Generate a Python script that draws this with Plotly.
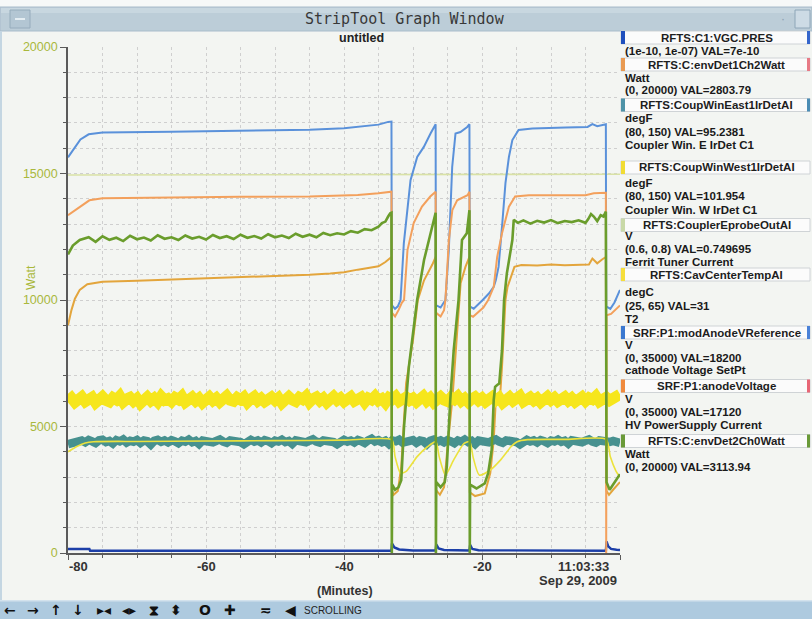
import plotly.graph_objects as go

# ---------------------------------------------------------------------------
# Channel data, time in minutes relative to 11:03:33 (Sep 29, 2009)
# ---------------------------------------------------------------------------

# RFTS:C1:VGC.PRES  (displayed range 1e-10 .. 1e-07)
vgc_t = [-80.0, -76.9, -76.8, -33.12, -33.05, -32.7, -32.0, -30.0, -26.72, -26.63,
         -26.3, -25.5, -21.82, -21.72, -21.4, -20.5, -2.05, -1.95, -1.7, -1.3, -0.5, 0.0]
vgc_p = [9.0e-10, 9.0e-10, 5.5e-10, 5.5e-10, 2.0e-9, 1.2e-9, 8.0e-10, 6.0e-10, 5.8e-10, 1.8e-9,
         1.0e-9, 7.0e-10, 6.0e-10, 1.7e-9, 9.0e-10, 6.5e-10, 5.5e-10, 2.4e-9, 1.4e-9, 9.0e-10, 7.5e-10, 7.0e-10]

# RFTS:C:envDet1Ch2Watt  (W, 0 .. 20000)
env1_t = [-80.0, -79.5, -79.0, -78.3, -77.2, -75.0, -70.0, -66.0, -62.0, -58.0, -55.0, -51.0, -48.0,
          -45.0, -42.0, -40.0, -38.0, -36.5, -35.0, -34.0, -33.12,
          -33.07, -32.8, -32.2, -31.7, -31.0, -30.0, -29.3, -28.4, -27.2, -26.72,
          -26.68, -26.1, -25.5, -25.0, -24.3, -23.6, -23.3, -23.1, -22.4, -21.82,
          -21.77, -21.0, -19.6, -18.8, -18.3, -18.0, -17.4, -17.1, -16.6, -16.3, -15.3, -14.3, -12.0,
          -10.0, -8.0, -6.0, -4.5, -4.0, -3.3, -2.6, -2.05,
          -1.95, -1.6, -1.0, -0.4, 0.0]
env1_w = [9000, 9600, 10050, 10400, 10620, 10720, 10760, 10800, 10830, 10860, 10890, 10930, 10960,
          11000, 11050, 11100, 11200, 11260, 11330, 11500, 11700,
          2500, 2300, 2450, 3410, 6710, 8410, 10000, 10780, 11400, 11700,
          2500, 2300, 2600, 4200, 6050, 8680, 10000, 10660, 11310, 11700,
          2400, 2250, 2350, 3160, 4460, 6050, 6100, 7360, 10000, 10520, 11310, 11380, 11360,
          11400, 11370, 11400, 11400, 11640, 11450, 11600, 11700,
          2450, 2300, 2500, 2700, 2803.79]

# RFTS:CoupWinEast1IrDetAI and RFTS:CoupWinWest1IrDetAI (degF, 80 .. 150), sampled every 0.5 min
win_step = 0.5
win_east_f = [
    95.05, 95.12, 95.28, 95.42, 95.55, 95.30, 95.62, 95.45, 95.22, 95.58,
    95.66, 95.35, 95.50, 95.15, 95.62, 95.44, 95.70, 95.28, 95.52, 95.40,
    95.63, 95.24, 95.56, 95.46, 95.02, 95.52, 95.66, 95.38, 95.57, 95.30,
    95.61, 95.45, 95.18, 95.55, 95.40, 95.68, 95.33, 95.50, 95.08, 95.56,
    95.45, 95.62, 95.30, 95.52, 95.71, 95.40, 95.24, 95.57, 95.46, 95.60,
    95.34, 95.04, 95.50, 95.66, 95.41, 95.58, 95.29, 95.62, 95.47, 95.20,
    95.55, 95.42, 95.68, 95.36, 95.51, 95.12, 95.58, 95.46, 95.64, 95.31,
    95.53, 95.72, 95.40, 95.26, 95.57, 95.45, 95.61, 95.35, 95.06, 95.52,
    95.66, 95.41, 95.56, 95.30, 95.63, 95.46, 95.22, 95.58, 95.80, 95.44,
    95.60, 95.32, 95.52, 95.10, 95.58, 95.45, 95.66, 95.28, 95.50, 95.40,
    95.62, 95.25, 95.55, 95.46, 95.05, 95.52, 95.67, 95.39, 95.57, 95.31,
    95.61, 95.44, 95.18, 95.56, 95.40, 95.69, 95.34, 95.51, 95.09, 95.55,
    95.46, 95.63, 95.30, 95.53, 95.70, 95.41, 95.25, 95.58, 95.45, 95.61,
    95.35, 95.02, 95.51, 95.65, 95.42, 95.57, 95.30, 95.62, 95.46, 95.21,
    95.56, 95.43, 95.67, 95.37, 95.52, 95.13, 95.58, 95.47, 95.64, 95.32,
    95.54, 95.71, 95.41, 95.27, 95.56, 95.46, 95.60, 95.36, 95.50, 95.30,
    95.2381]
win_west_f = [
    101.05, 101.45, 100.85, 101.30, 101.60, 100.95, 101.25, 101.55, 100.80, 101.35,
    101.62, 101.10, 100.90, 101.48, 101.20, 101.70, 100.88, 101.30, 101.52, 101.00,
    101.38, 100.70, 101.25, 101.58, 101.05, 101.42, 100.92, 101.66, 101.15, 101.35,
    100.95, 101.50, 101.22, 101.68, 100.86, 101.30, 101.55, 101.02, 101.40, 100.78,
    101.28, 101.60, 101.08, 101.45, 100.90, 101.35, 101.72, 101.12, 100.98, 101.50,
    101.20, 101.58, 100.85, 101.32, 101.65, 101.04, 101.40, 100.92, 101.28, 101.56,
    101.10, 101.48, 100.75, 101.36, 101.62, 101.18, 100.96, 101.52, 101.25, 101.70,
    100.88, 101.34, 101.58, 101.06, 101.42, 100.82, 101.30, 101.66, 101.14, 101.46,
    100.94, 101.38, 101.62, 101.00, 101.26, 101.54, 100.86, 101.44, 101.20, 101.68,
    101.08, 101.35, 100.80, 101.50, 101.24, 101.64, 100.98, 101.32, 101.56, 101.12,
    101.40, 100.90, 101.28, 101.70, 101.05, 101.46, 100.84, 101.36, 101.60, 101.16,
    100.96, 101.52, 101.22, 101.66, 101.02, 101.38, 100.88, 101.30, 101.58, 101.10,
    101.44, 100.92, 101.34, 101.62, 101.12, 101.48, 100.78, 101.26, 101.56, 101.04,
    101.40, 101.72, 100.94, 101.30, 101.54, 101.08, 101.42, 100.86, 101.34, 101.64,
    101.14, 101.50, 100.98, 101.28, 101.60, 101.06, 101.44, 100.90, 101.36, 101.58,
    101.02, 101.46, 101.24, 101.68, 100.96, 101.32, 101.54, 101.10, 101.40, 101.75,
    101.954]

# RFTS:CouplerEprobeOutAI  (V, 0.6 .. 0.8)
eprobe_t = [-80.0, -40.0, 0.0]
eprobe_v = [0.7494, 0.7495, 0.749695]

# RFTS:CavCenterTempAI  (degC, 25 .. 65)
cav_t = [-80.0, -78.8, -77.5, -76.3, -70.0, -60.0, -50.0, -40.0, -33.07,
         -32.6, -31.8, -31.0, -29.4, -27.9, -26.68,
         -26.2, -25.3, -24.1, -22.6, -21.77,
         -21.3, -20.4, -18.8, -17.3, -15.8, -14.9, -13.4, -8.0, -2.0,
         -1.4, -0.6, 0.0]
cav_c = [33.0, 33.4, 33.7, 33.8, 33.82, 33.85, 33.88, 33.92, 33.95,
         32.62, 31.3, 31.45, 32.62, 33.4, 33.8,
         32.6, 31.16, 32.36, 33.66, 33.8,
         32.6, 31.16, 31.56, 32.36, 33.4, 33.8, 33.96, 33.98, 33.98,
         32.6, 31.5, 31.0]

# SRF:P1:modAnodeVReference  (V, 0 .. 35000)
ref_t = [-80.0, -79.0, -78.2, -77.0, -75.0, -65.0, -55.0, -45.0, -40.0, -37.0, -35.0, -33.6, -33.12,
         -33.07, -32.6, -32.2, -31.8, -31.33, -30.36, -29.39, -28.43, -27.46, -26.8, -26.72,
         -26.68, -26.0, -25.3, -24.81, -24.32, -23.84, -23.12, -22.14, -21.82,
         -21.77, -21.2, -20.6, -19.9, -19.0, -18.3, -18.0, -17.6, -17.1, -16.6, -16.1, -15.6, -14.7,
         -12.7, -7.9, -4.7, -4.0, -3.3, -2.05,
         -2.0, -1.4, -0.8, 0.0]
ref_v = [27370, 28090, 28610, 28960, 29090, 29140, 29210, 29280, 29380, 29510, 29630, 29820, 29840,
         17150, 16890, 17060, 17500, 21420, 25780, 27390, 28090, 29020, 29660, 29660,
         17150, 16980, 17500, 20950, 26700, 29020, 29120, 29470, 29660,
         17060, 16890, 17150, 17500, 17950, 18410, 18870, 19790, 22560, 25580, 27390, 28560, 29260,
         29360, 29440, 29470, 29660, 29520, 29660,
         17060, 16890, 17330, 18200]

# SRF:P1:anodeVoltage  (V, 0 .. 35000)
anode_t = [-80.0, -78.3, -76.9, -75.0, -65.0, -55.0, -45.0, -38.0, -35.0, -33.12,
           -33.07, -32.6, -32.1, -31.6, -31.3, -30.8, -29.9, -28.7, -27.5, -26.72,
           -26.68, -26.0, -25.5, -25.3, -24.8, -24.3, -23.6, -22.1, -21.82,
           -21.77, -21.3, -19.8, -19.1, -18.3, -17.8, -17.1, -16.1, -15.2, -13.2, -5.0, -3.8, -2.05,
           -2.0, -1.95, -1.3, -0.6, 0.0]
anode_v = [23363, 23940, 24395, 24535, 24605, 24640, 24658, 24763, 24885, 24990,
           16625, 16363, 16800, 17325, 17500, 20948, 22820, 23958, 24658, 24990,
           16625, 16363, 16800, 17500, 21648, 23713, 24395, 24745, 24990,
           16450, 16345, 16975, 17500, 18410, 20475, 22120, 23958, 24658, 24745, 24745, 24885, 24920,
           0, 16450, 16538, 16888, 17120]

# RFTS:C:envDet2Ch0Watt  (W, 0 .. 20000)
env2_t = [-80.0, -79.3, -78.3, -77.0, -76.0, -75.0, -74.0, -73.0, -72.0, -71.0, -70.0, -69.0, -68.0,
          -67.0, -66.0, -65.0, -64.0, -63.0, -62.0, -61.0, -60.0, -59.0, -58.0, -57.0, -56.0, -55.0,
          -54.0, -53.0, -52.0, -51.0, -50.0, -49.0, -48.0, -47.0, -46.0, -45.0, -44.0, -43.0, -42.0,
          -41.0, -40.0, -39.0, -38.0, -37.0, -36.0, -35.0, -34.5, -34.0, -33.6, -33.3, -33.12,
          -33.07, -33.02, -32.6, -32.1, -31.7, -31.3, -30.6, -29.9, -29.4, -28.4, -27.5, -26.8, -26.72,
          -26.68, -26.63, -26.0, -25.4, -25.1, -24.6, -24.1, -23.4, -22.9, -22.2, -21.82,
          -21.77, -21.72, -20.8, -19.6, -19.1, -18.6, -18.3, -18.1, -17.8, -17.5,
          -17.1, -16.8, -16.4, -15.6, -15.4,
          -14.8, -14.0, -13.0, -12.0, -11.0, -10.0, -9.0, -8.0, -7.0, -6.0, -5.0,
          -4.6, -4.2, -3.8, -3.3, -2.8, -2.4, -2.05,
          -1.95, -1.5, -0.8, 0.0]
env2_w = [11800, 12150, 12370, 12480, 12300, 12520, 12380, 12460, 12330, 12540, 12400, 12470, 12350,
          12560, 12420, 12480, 12370, 12550, 12430, 12500, 12390, 12570, 12450, 12520, 12410, 12580,
          12460, 12530, 12430, 12600, 12480, 12550, 12450, 12620, 12500, 12580, 12480, 12650, 12560,
          12640, 12590, 12720, 12660, 12800, 12760, 12900, 13040, 13100, 13300, 13430, 13450,
          0, 2700, 2500, 2600, 2880, 4990, 7360, 8940, 10000, 11580, 12640, 13430, 13450,
          0, 2800, 2600, 2800, 3410, 6050, 8020, 10000, 12370, 12640, 13550,
          0, 2700, 2550, 2750, 3160, 4070, 6050, 6570, 6640, 6700,
          8020, 10000, 11050, 12370, 13170,
          13050, 13150, 13020, 13130, 13060, 13160, 13040, 13120, 13080, 13150, 13050,
          13200, 13400, 13300, 13120, 13350, 13300, 13490,
          2800, 2500, 2800, 3113.94]

# ---------------------------------------------------------------------------
# Page geometry (pixels) and helpers
# ---------------------------------------------------------------------------
W_PX, H_PX = 812, 619
M_L, M_R, M_T, M_B = 68, 192, 47, 66
PW = W_PX - M_L - M_R
PH = H_PX - M_T - M_B
FULL = 20000.0


def fx(px):
    return (px - M_L) / PW


def fy(py):
    return (H_PX - M_B - py) / PH


def scaled(values, lo, hi):
    """Map a channel onto the shared 0..20000 strip scale."""
    return [(v - lo) / (hi - lo) * FULL for v in values]


win_t = [-80.0 + win_step * i for i in range(len(win_east_f))]

channels = [
    dict(name="RFTS:C1:VGC.PRES", t=vgc_t, v=vgc_p, lo=1e-10, hi=1e-07,
         color="#1c3fa8", width=2.4),
    dict(name="RFTS:C:envDet1Ch2Watt", t=env1_t, v=env1_w, lo=0, hi=20000,
         color="#e3a53c", width=2.0),
    dict(name="RFTS:CoupWinEast1IrDetAI", t=win_t, v=win_east_f, lo=80, hi=150,
         color="#47918f", width=8.5),
    dict(name="RFTS:CoupWinWest1IrDetAI", t=win_t, v=win_west_f, lo=80, hi=150,
         color="#f6e61c", width=11),
    dict(name="RFTS:CouplerEprobeOutAI", t=eprobe_t, v=eprobe_v, lo=0.6, hi=0.8,
         color="#d9e2a6", width=1.6),
    dict(name="RFTS:CavCenterTempAI", t=cav_t, v=cav_c, lo=25, hi=65,
         color="#ece23c", width=1.6, smooth=True),
    dict(name="SRF:P1:modAnodeVReference", t=ref_t, v=ref_v, lo=0, hi=35000,
         color="#5a91da", width=2.0),
    dict(name="SRF:P1:anodeVoltage", t=anode_t, v=anode_v, lo=0, hi=35000,
         color="#f3a05c", width=2.0),
    dict(name="RFTS:C:envDet2Ch0Watt", t=env2_t, v=env2_w, lo=0, hi=20000,
         color="#6a9d2c", width=2.6),
]

fig = go.Figure()
for ch in channels:
    fig.add_trace(go.Scatter(
        x=ch["t"], y=scaled(ch["v"], ch["lo"], ch["hi"]), mode="lines",
        name=ch["name"],
        line=dict(color=ch["color"], width=ch["width"],
                  shape="spline" if ch.get("smooth") else "linear",
                  smoothing=0.6 if ch.get("smooth") else None),
        hoverinfo="skip", showlegend=False))

BG = "#f3f5f2"
AXIS = "#5a5a5a"
GRID = "#cfcfcf"
OLIVE = "#a9b83c"
TXT = "#2b2b2b"
LABEL_FONT = "Liberation Sans, Arial, sans-serif"

fig.update_layout(
    width=W_PX, height=H_PX, autosize=False,
    margin=dict(l=M_L, r=M_R, t=M_T, b=M_B, pad=0),
    paper_bgcolor=BG, plot_bgcolor=BG,
    showlegend=False,
    xaxis=dict(range=[-80, 0], showline=True, linecolor=AXIS, linewidth=1.6,
               ticks="outside", tickvals=[-80, -60, -40, -20, 0], ticklen=5, tickwidth=1.4,
               tickcolor=AXIS, showticklabels=False, zeroline=False,
               showgrid=True, gridcolor=GRID, griddash="3px,3px", gridwidth=1,
               minor=dict(dtick=5, tick0=0, ticks="outside", ticklen=3, tickcolor=AXIS,
                          showgrid=True, gridcolor=GRID, griddash="3px,3px", gridwidth=1)),
    yaxis=dict(range=[0, 20000], showline=True, linecolor=AXIS, linewidth=1.6,
               ticks="outside", dtick=5000, tick0=0, ticklen=6, tickwidth=1.4, tickcolor=AXIS,
               tickformat="d",
               tickfont=dict(family=LABEL_FONT, size=12.5, color=OLIVE),
               zeroline=False, showgrid=True, gridcolor=GRID, griddash="3px,3px", gridwidth=1,
               minor=dict(dtick=1000, ticks="outside", ticklen=3, tickcolor=AXIS,
                          showgrid=True, gridcolor=GRID, griddash="3px,3px", gridwidth=1)),
)

shapes = []
annotations = []


def rect(x0, y0, x1, y1, fill, line=None, lw=0, layer="above"):
    shapes.append(dict(type="rect", xref="paper", yref="paper",
                       x0=fx(x0), x1=fx(x1), y0=fy(y1), y1=fy(y0),
                       fillcolor=fill, line=dict(color=line or fill, width=lw), layer=layer))


def text(s, x, y, size=12, color=TXT, family=LABEL_FONT, anchor="center", bold=False, angle=0):
    annotations.append(dict(
        text=f"<b>{s}</b>" if bold else s, xref="paper", yref="paper",
        x=fx(x), y=fy(y), xanchor=anchor, yanchor="middle", showarrow=False, textangle=angle,
        font=dict(family=family, size=size, color=color)))


# window title bar
rect(0, 0, 812, 7, "#f6f8f8", layer="below")
rect(0, 7, 812, 31, "#bccdd8", line="#a9bccb", lw=1, layer="below")
rect(1, 8, 811, 13, "#c8d7e0", layer="below")
rect(10, 10, 30, 28, "#b3c6d3", line="#96acbc", lw=1)
shapes.append(dict(type="line", xref="paper", yref="paper", x0=fx(15), x1=fx(25),
                   y0=fy(19), y1=fy(19), line=dict(color="#e4edf2", width=2)))
rect(795, 10, 810, 28, "#cddbe5", line="#8ea6b8", lw=1)
text("·", 783, 19, size=12, color="#8aa0b0")
text("StripTool Graph Window", 405, 19, size=15, color="#383838",
     family="DejaVu Sans Mono, monospace")
rect(0, 31, 2, 600, "#c4d6e2", layer="below")

# chart titles
text("untitled", 361, 38, size=12.5, bold=True, color="#222222")
text("Watt", 31, 278, size=12, color=OLIVE, angle=-90)
text("(Minutes)", 345, 591, size=12.5, bold=True, color="#333333")

# x tick labels, placed through the data axis
for tv, lab, shift in [(-80, "-80", 10), (-60, "-60", 0), (-40, "-40", 0), (-20, "-20", 0)]:
    annotations.append(dict(text=f"<b>{lab}</b>", xref="x", yref="paper", x=tv, y=fy(566),
                            xshift=shift, xanchor="center", yanchor="middle", showarrow=False,
                            font=dict(family=LABEL_FONT, size=13, color="#333333")))
annotations.append(dict(text="<b>11:03:33</b>", xref="x", yref="paper", x=0, y=fy(566),
                        xshift=-9, xanchor="right", yanchor="middle", showarrow=False,
                        font=dict(family=LABEL_FONT, size=13, color="#333333")))
annotations.append(dict(text="<b>Sep 29, 2009</b>", xref="x", yref="paper", x=0, y=fy(580),
                        xshift=-1, xanchor="right", yanchor="middle", showarrow=False,
                        font=dict(family=LABEL_FONT, size=13, color="#333333")))

# channel legend panel
legend = [
    ("RFTS:C1:VGC.PRES", "#1f4fbd", "#3566cc", 37.5,
     [("(1e-10, 1e-07) VAL=7e-10", 51)]),
    ("RFTS:C:envDet1Ch2Watt", "#e99a52", "#e87a86", 64.5,
     [("Watt", 77.5), ("(0, 20000) VAL=2803.79", 90.5)]),
    ("RFTS:CoupWinEast1IrDetAI", "#4f93a8", "#4c8db5", 105,
     [("degF", 118), ("(80, 150) VAL=95.2381", 131.5), ("Coupler Win. E IrDet C1", 145)]),
    ("RFTS:CoupWinWest1IrDetAI", "#f1dc34", None, 167.5,
     [("degF", 183), ("(80, 150) VAL=101.954", 196.5), ("Coupler Win. W IrDet C1", 210)]),
    ("RFTS:CouplerEprobeOutAI", "#c9d9a8", None, 225,
     [("V", 236.5), ("(0.6, 0.8) VAL=0.749695", 249), ("Ferrit Tuner Current", 261.5)]),
    ("RFTS:CavCenterTempAI", "#f6de3c", None, 274.5,
     [("degC", 292), ("(25, 65) VAL=31", 305.5), ("T2", 319)]),
    ("SRF:P1:modAnodeVReference", "#3b78d0", "#4a82d8", 332.5,
     [("V", 345), ("(0, 35000) VAL=18200", 357.5), ("cathode Voltage SetPt", 370)]),
    ("SRF:P1:anodeVoltage", "#f08a3e", "#e86676", 386,
     [("V", 398.5), ("(0, 35000) VAL=17120", 411.5), ("HV PowerSupply Current", 425)]),
    ("RFTS:C:envDet2Ch0Watt", "#6a9a38", "#6a9a38", 441,
     [("Watt", 453.5), ("(0, 20000) VAL=3113.94", 466.5)]),
]
BOX_L, BOX_R = 621, 810
for name, left_col, right_col, yc, lines in legend:
    rect(BOX_L, yc - 6.5, BOX_R, yc + 6.5, "#fbfbfb", line="#cfd3d6", lw=1)
    rect(BOX_L, yc - 6.5, BOX_L + 4, yc + 6.5, left_col)
    if right_col:
        rect(BOX_R - 3, yc - 6.5, BOX_R, yc + 6.5, right_col)
    text(name, (BOX_L + BOX_R) / 2 + 1, yc, size=11.5, bold=True, color="#1e1e1e")
    for s, ly in lines:
        text(s, BOX_L + 2, ly, size=11.5, bold=True, color="#1a1a1a", anchor="left")

# bottom tool bar
rect(0, 600, 812, 619, "#aecadf", layer="below")
rect(0, 600, 812, 601.5, "#d3e2ed", layer="below")
for glyph, gx in [("←", 10), ("→", 33), ("↑", 56), ("↓", 78), ("▸◂", 104), ("◂▸", 129),
                  ("⧗", 154), ("⬍", 176), ("O", 205), ("✚", 230), ("≂", 266), ("◀", 290)]:
    text(glyph, gx, 610, size=14, bold=True, color="#111111", family="DejaVu Sans, sans-serif")
text("SCROLLING", 302, 610, size=10, color="#222222", anchor="left")

fig.update_layout(shapes=shapes, annotations=annotations)
fig.write_html("out.html")
